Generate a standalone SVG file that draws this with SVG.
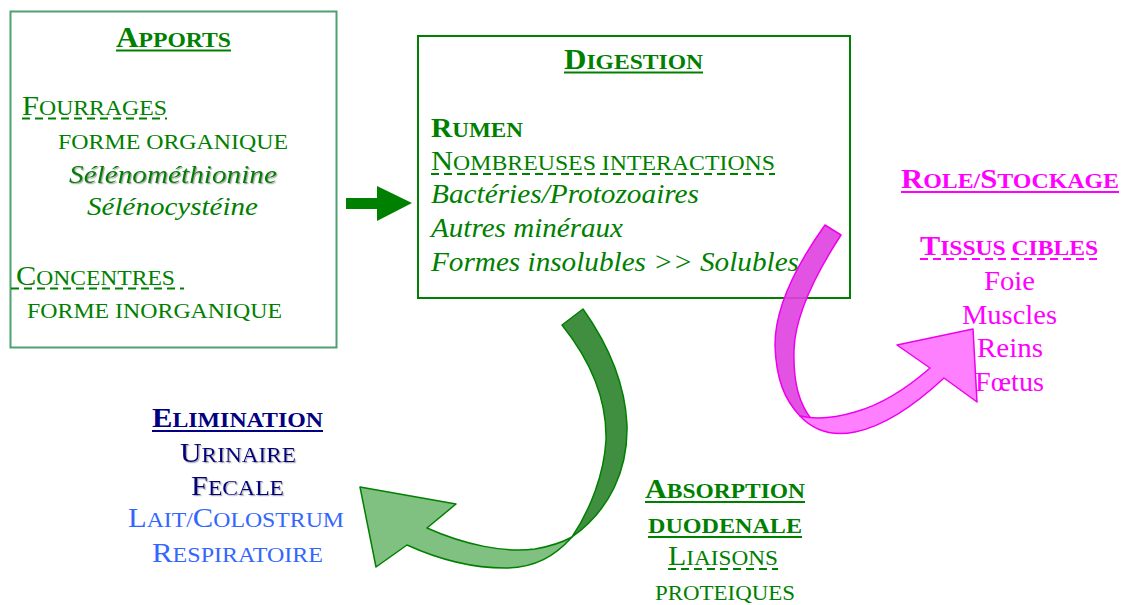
<svg xmlns="http://www.w3.org/2000/svg" width="1122" height="605" viewBox="0 0 1122 605">
<style>
text{font-family:"Liberation Serif","Times New Roman",serif;}
.g{fill:#008000;}
.p{fill:#ff00ff;}
.n{fill:#000080;}
.b{fill:#3366ff;}
.bd{font-weight:bold;}
.it{font-style:italic;}
.ul{stroke-width:2.2;fill:none;}
.dl{stroke-width:1.8;stroke-dasharray:8 5;fill:none;}
.sh{filter:url(#shadow);}
</style>
<defs>
<filter id="shadow" x="-5%" y="-20%" width="110%" height="150%">
<feDropShadow dx="1.2" dy="1.2" stdDeviation="0.6" flood-color="#888" flood-opacity="0.7"/>
</filter>
</defs>
<rect width="1122" height="605" fill="#fff"/>

<g id="apports">
<rect x="10.5" y="11.5" width="326" height="336" fill="none" stroke="#4fa070" stroke-width="2"/>
<text class="g bd" x="116" y="47" textLength="115" lengthAdjust="spacingAndGlyphs"><tspan font-size="29">A</tspan><tspan font-size="22">PPORTS</tspan></text>
<line class="ul" stroke="#008000" x1="116" y1="50.5" x2="231" y2="50.5"/>
<text class="g" x="22" y="115" textLength="145" lengthAdjust="spacingAndGlyphs"><tspan font-size="27">F</tspan><tspan font-size="21">OURRAGES</tspan></text>
<line class="dl" stroke="#008000" x1="22" y1="118.5" x2="167" y2="118.5"/>
<text class="g" x="58" y="149" font-size="22" textLength="230" lengthAdjust="spacingAndGlyphs">FORME ORGANIQUE</text>
<text class="g it sh" x="69" y="183" font-size="25" textLength="208" lengthAdjust="spacingAndGlyphs">Sélénométhionine</text>
<text class="g it" x="87" y="215" font-size="25" textLength="171" lengthAdjust="spacingAndGlyphs">Sélénocystéine</text>
<text class="g" x="16" y="285" textLength="159" lengthAdjust="spacingAndGlyphs"><tspan font-size="27">C</tspan><tspan font-size="21">ONCENTRES</tspan></text>
<line class="dl" stroke="#008000" x1="11" y1="288.5" x2="184" y2="288.5"/>
<text class="g" x="27" y="318" font-size="22" textLength="255" lengthAdjust="spacingAndGlyphs">FORME INORGANIQUE</text>
</g>

<g id="digestion">
<rect x="418" y="36" width="432" height="262" fill="none" stroke="#008000" stroke-width="2"/>
<text class="g bd" x="564" y="69" textLength="139" lengthAdjust="spacingAndGlyphs"><tspan font-size="29">D</tspan><tspan font-size="22">IGESTION</tspan></text>
<line class="ul" stroke="#008000" x1="564" y1="72.5" x2="703" y2="72.5"/>
<text class="g bd" x="431" y="137" textLength="92" lengthAdjust="spacingAndGlyphs"><tspan font-size="28">R</tspan><tspan font-size="22">UMEN</tspan></text>
<text class="g" x="431" y="170" textLength="344" lengthAdjust="spacingAndGlyphs"><tspan font-size="27">N</tspan><tspan font-size="21">OMBREUSES INTERACTIONS</tspan></text>
<line class="dl" stroke="#008000" x1="431" y1="174" x2="775" y2="174"/>
<text class="g it" x="431" y="203" font-size="26.5" textLength="268" lengthAdjust="spacingAndGlyphs">Bactéries/Protozoaires</text>
<text class="g it" x="431" y="237" font-size="26.5" textLength="192" lengthAdjust="spacingAndGlyphs">Autres minéraux</text>
<text class="g it" x="431" y="271" font-size="26.5" textLength="368" lengthAdjust="spacingAndGlyphs">Formes insolubles &gt;&gt; Solubles</text>
</g>

<g id="role-stockage">
<text class="p bd" x="901" y="188" textLength="218" lengthAdjust="spacingAndGlyphs"><tspan font-size="27">R</tspan><tspan font-size="21">OLE/</tspan><tspan font-size="27">S</tspan><tspan font-size="21">TOCKAGE</tspan></text>
<line class="ul" stroke="#ff00ff" x1="901" y1="192" x2="1119" y2="192"/>
<text class="p bd" x="920" y="255" textLength="178" lengthAdjust="spacingAndGlyphs"><tspan font-size="27">T</tspan><tspan font-size="21">ISSUS CIBLES</tspan></text>
<line class="dl" stroke="#ff00ff" x1="920" y1="259" x2="1098" y2="259"/>
<text class="p" x="984" y="290" font-size="27" textLength="51" lengthAdjust="spacingAndGlyphs">Foie</text>
<text class="p" x="962" y="324" font-size="27" textLength="95" lengthAdjust="spacingAndGlyphs">Muscles</text>
<text class="p" x="977" y="357" font-size="27" textLength="66" lengthAdjust="spacingAndGlyphs">Reins</text>
<text class="p" x="975" y="391" font-size="27" textLength="69" lengthAdjust="spacingAndGlyphs">Fœtus</text>
</g>

<g id="elimination">
<text class="n bd" x="152" y="427" textLength="171" lengthAdjust="spacingAndGlyphs"><tspan font-size="27">E</tspan><tspan font-size="21">LIMINATION</tspan></text>
<line class="ul" stroke="#000080" x1="152" y1="431" x2="323" y2="431"/>
<text class="n sh" x="180" y="462" textLength="116" lengthAdjust="spacingAndGlyphs"><tspan font-size="27">U</tspan><tspan font-size="21">RINAIRE</tspan></text>
<text class="n sh" x="191" y="495" textLength="93" lengthAdjust="spacingAndGlyphs"><tspan font-size="27">F</tspan><tspan font-size="21">ECALE</tspan></text>
<text class="b" x="128" y="527" textLength="216" lengthAdjust="spacingAndGlyphs"><tspan font-size="27">L</tspan><tspan font-size="21">AIT/</tspan><tspan font-size="27">C</tspan><tspan font-size="21">OLOSTRUM</tspan></text>
<text class="b" x="152" y="562" textLength="171" lengthAdjust="spacingAndGlyphs"><tspan font-size="27">R</tspan><tspan font-size="21">ESPIRATOIRE</tspan></text>
</g>

<g id="absorption">
<text class="g bd" x="645" y="498" textLength="160" lengthAdjust="spacingAndGlyphs"><tspan font-size="27">A</tspan><tspan font-size="21">BSORPTION</tspan></text>
<line class="ul" stroke="#008000" x1="645" y1="502" x2="805" y2="502"/>
<text class="g bd" x="648" y="533" font-size="21" textLength="154" lengthAdjust="spacingAndGlyphs">DUODENALE</text>
<line class="ul" stroke="#008000" x1="648" y1="537" x2="802" y2="537"/>
<text class="g" x="668" y="565" textLength="110" lengthAdjust="spacingAndGlyphs"><tspan font-size="27">L</tspan><tspan font-size="21">IAISONS</tspan></text>
<line class="dl" stroke="#008000" x1="668" y1="569" x2="778" y2="569"/>
<text class="g" x="655" y="600" font-size="21" textLength="140" lengthAdjust="spacingAndGlyphs">PROTEIQUES</text>
</g>

<g id="connectors">
<polygon points="346,198 377,198 377,186 412,203 377,221 377,209 346,209" fill="#008000"/>
<g stroke="#008000" stroke-width="1.5" stroke-linejoin="round">
<path d="M562,325 L583,309 C605,340 625,380 627,425 C628,470 610,510 572,537 C590,510 604,475 606,440 C607,400 590,360 562,325 Z" fill="#408f40"/>
<path d="M572,537 C555,556 535,568 505,568 C470,568 440,560 407,545 L376,567 L360,487 L456,504 L427,528 C465,545 505,553 535,549 C552,546 563,542 572,537 Z" fill="#80c080"/>
</g>
<g stroke="#ee00ee" stroke-width="1.5" stroke-linejoin="round">
<path d="M825,225 L841,235 C815,275 795,315 794,350 C793,385 800,405 812,420 L800,416 C785,400 776,380 775,345 C775,305 800,260 825,225 Z" fill="#e040e0" fill-opacity="0.9"/>
<path d="M800,416 C815,432 835,436 855,432 C885,426 915,405 944,378 L977,402 L973,329 L897,345 L930,368 C905,390 880,405 855,412 C835,418 818,420 800,416 Z" fill="#ff80ff"/>
</g>
</g>
</svg>
